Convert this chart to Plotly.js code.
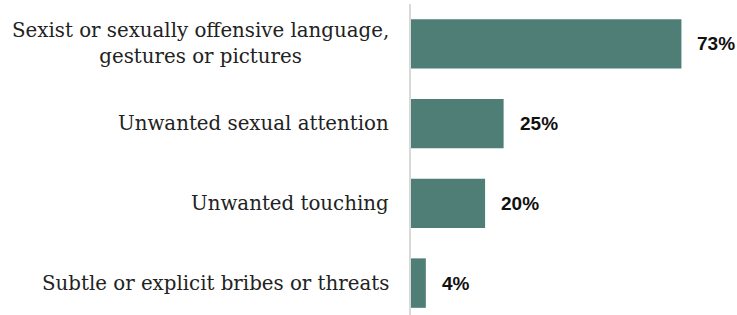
<!DOCTYPE html>
<html>
<head>
<meta charset="utf-8">
<script src="https://cdn.plot.ly/plotly-3.0.1.min.js"></script>
<style>html,body{margin:0;padding:0;background:#fff;}#chart{width:737px;height:315px;}</style>
</head>
<body>
<div id="chart"></div>
<script>
var categories = [
  "Sexist or sexually offensive language,<br>gestures or pictures",
  "Unwanted sexual attention",
  "Unwanted touching",
  "Subtle or explicit bribes or threats"
];
var values = [73, 25, 20, 4];
var valueLabels = ["73%", "25%", "20%", "4%"];

var barColor = "#4e7e76";
var labelFont = "'DejaVu Serif', serif";
var valueFont = "'Liberation Sans', Arial, sans-serif";

var trace = {
  type: "bar",
  orientation: "h",
  x: values,
  y: categories,
  marker: {color: barColor, line: {width: 0}},
  hoverinfo: "none"
};

var annotations = [];
categories.forEach(function (c, i) {
  annotations.push({
    xref: "paper", yref: "y", x: 0, y: c,
    xanchor: "right", yanchor: "middle", xshift: -20,
    text: c, showarrow: false, align: "center",
    font: {family: labelFont, size: 19.8, color: "#222"}
  });
  annotations.push({
    xref: "x", yref: "y", x: values[i], y: c,
    xanchor: "left", yanchor: "middle", xshift: 14,
    text: "<b>" + valueLabels[i] + "</b>", showarrow: false,
    font: {family: valueFont, size: 19, color: "#111"}
  });
});

var layout = {
  width: 737, height: 315,
  margin: {l: 411, r: 0, t: 4, b: 0},
  paper_bgcolor: "#fff", plot_bgcolor: "#fff",
  showlegend: false,
  bargap: 0.38,
  xaxis: {range: [0, 88], showgrid: false, zeroline: false, showticklabels: false, ticks: "", showline: false, fixedrange: true},
  yaxis: {
    type: "category",
    categoryorder: "array", categoryarray: categories,
    range: [3.4, -0.5],
    showticklabels: false, ticks: "", showgrid: false, zeroline: false,
    showline: true, linecolor: "#d9d9d9", linewidth: 2, fixedrange: true
  },
  annotations: annotations
};

Plotly.newPlot("chart", [trace], layout, {displayModeBar: false, staticPlot: true});
</script>
</body>
</html>
